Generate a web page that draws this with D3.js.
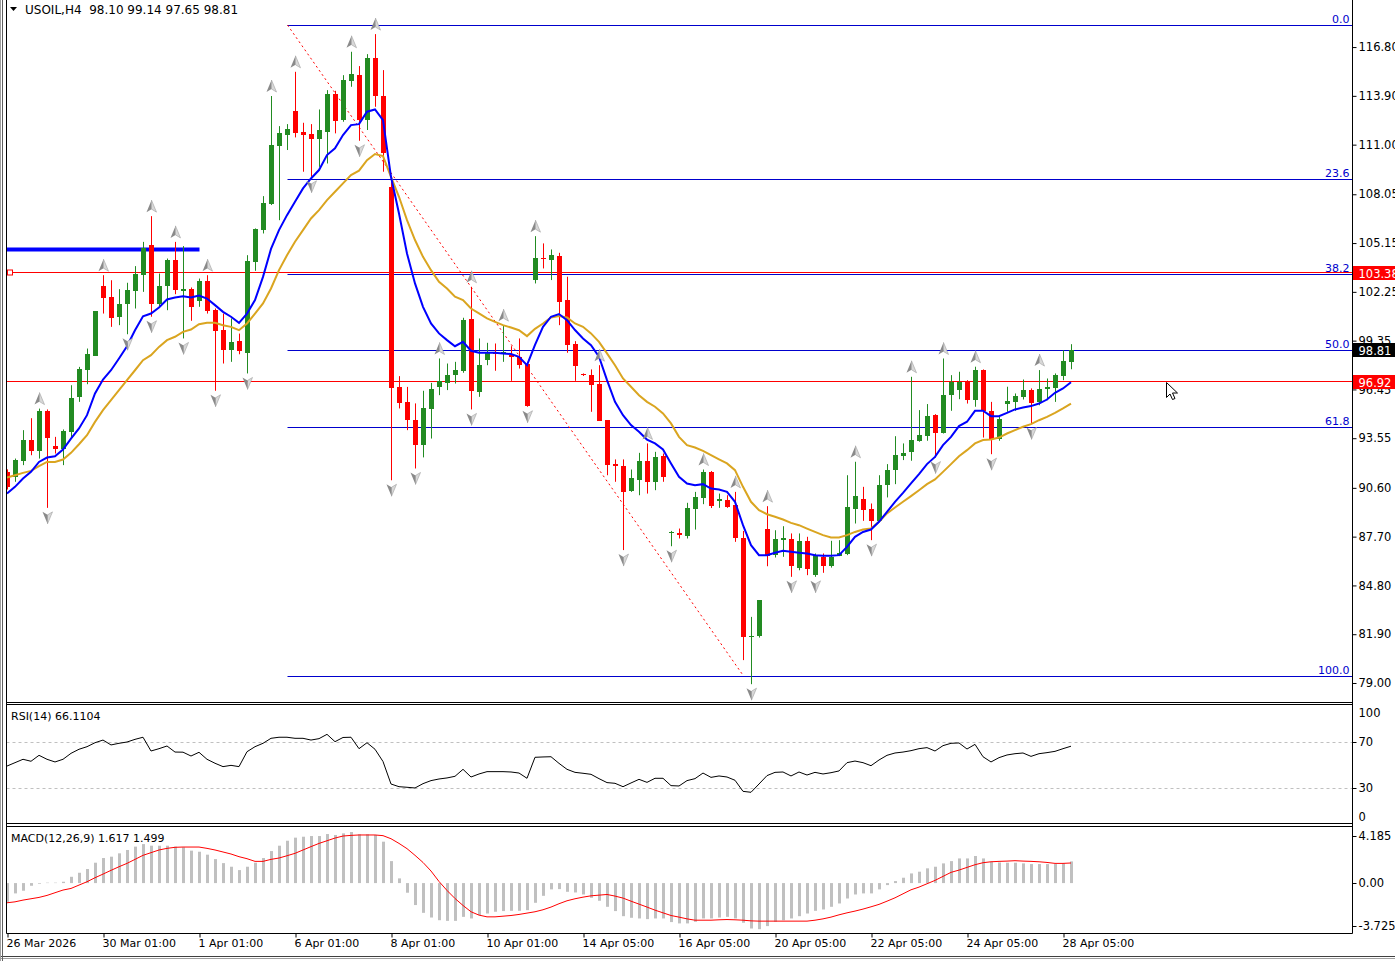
<!DOCTYPE html>
<html>
<head>
<meta charset="utf-8">
<script src="https://cdn.jsdelivr.net/npm/d3@7/dist/d3.min.js"></script>
<style>
  body { margin: 0; background: #fff; }
  svg { display: block; font-family: Tahoma, "DejaVu Sans", sans-serif; font-size: 11px; }
</style>
</head>
<body>
<svg id="chart" width="1395" height="961"></svg>
<script>
/*global d3
 */
// USOIL H4 candles (one entry per bar)
const opens = [
  91.55, 91.25, 92.20, 93.43, 92.80, 95.16, 93.08, 92.88, 93.93, 95.99,
  97.59, 98.45, 102.59, 101.95, 100.73, 101.50, 102.31, 103.24, 105.03, 101.52,
  102.59, 104.13, 102.31, 102.41, 101.72, 102.89, 101.16, 99.97, 98.78, 99.30,
  98.62, 104.03, 105.92, 107.47, 110.91, 111.57, 113.01, 111.75, 111.63, 111.31,
  111.77, 114.00, 112.46, 114.80, 115.13, 112.42, 116.13, 113.89, 108.50, 96.60,
  95.71, 94.62, 93.14, 95.28, 96.61, 96.80, 97.30, 97.54, 100.61, 96.31,
  98.15, 98.59, 98.59, 98.49, 98.39, 97.99, 102.95, 104.24, 104.14, 104.37,
  101.76, 99.14, 97.34, 97.30, 96.76, 94.62, 92.01, 91.89, 90.40, 91.06,
  92.21, 90.96, 92.48, 87.90, 87.92, 87.73, 89.37, 90.03, 91.55, 89.77,
  89.87, 89.57, 87.59, 81.70, 81.78, 88.18, 86.60, 87.49, 87.53, 85.86,
  87.45, 85.41, 86.50, 85.94, 86.58, 86.70, 89.33, 89.93, 89.33, 88.62,
  90.76, 91.65, 92.50, 92.74, 93.40, 93.69, 94.92, 93.87, 96.11, 96.41,
  96.94, 95.81, 97.60, 95.18, 93.53, 95.61, 95.67, 95.97, 96.41, 95.67,
  96.51, 96.55, 97.26, 98.10
];
const highs = [
  91.70, 92.34, 94.03, 94.74, 95.31, 95.26, 93.63, 94.07, 96.70, 97.79,
  98.88, 101.10, 103.24, 102.94, 102.41, 102.79, 103.78, 105.22, 106.75, 103.34,
  104.23, 105.22, 104.97, 102.51, 103.04, 103.24, 101.26, 100.96, 100.67, 99.77,
  104.43, 106.02, 107.94, 113.89, 112.10, 112.22, 115.33, 112.30, 112.22, 113.09,
  114.24, 114.20, 115.13, 116.52, 115.67, 116.38, 117.57, 115.43, 108.99, 97.24,
  96.60, 95.62, 96.37, 96.84, 98.29, 97.99, 98.09, 100.71, 102.55, 99.48,
  99.22, 99.18, 100.27, 99.02, 99.48, 98.09, 105.56, 105.13, 104.77, 104.57,
  103.15, 99.32, 97.40, 97.64, 97.89, 94.62, 92.29, 92.29, 91.69, 92.68,
  93.24, 92.74, 92.64, 88.04, 88.18, 89.71, 90.36, 91.69, 91.60, 90.26,
  90.16, 90.36, 88.04, 82.93, 83.92, 89.51, 88.08, 88.32, 87.89, 87.89,
  87.69, 86.70, 86.70, 87.45, 87.49, 91.35, 92.15, 90.66, 89.67, 91.35,
  92.01, 93.67, 93.24, 97.20, 95.22, 95.58, 94.98, 98.29, 97.30, 97.50,
  97.00, 97.80, 97.64, 95.71, 94.82, 96.61, 96.21, 97.04, 96.51, 97.60,
  97.10, 97.40, 98.78, 99.14
];
const lows = [
  90.50, 90.96, 91.95, 92.54, 92.34, 89.41, 92.64, 91.95, 93.53, 95.71,
  96.76, 98.45, 100.96, 100.17, 100.27, 99.73, 101.26, 102.25, 100.77, 101.32,
  101.16, 102.11, 99.48, 100.53, 101.36, 100.96, 96.37, 97.99, 98.09, 98.54,
  97.40, 103.50, 105.72, 107.41, 106.51, 110.68, 111.43, 109.39, 109.09, 109.68,
  109.88, 111.67, 112.36, 114.44, 111.23, 111.87, 113.25, 109.39, 91.05, 95.32,
  94.03, 91.75, 92.41, 93.53, 96.11, 96.41, 96.80, 97.44, 95.26, 96.01,
  97.89, 97.56, 98.09, 96.96, 97.69, 95.42, 102.75, 103.64, 102.95, 100.27,
  98.63, 96.96, 97.25, 95.12, 94.58, 91.35, 90.96, 86.90, 90.36, 90.16,
  90.26, 90.46, 90.96, 87.13, 87.59, 87.59, 88.12, 89.63, 89.40, 89.41,
  89.41, 87.39, 80.36, 78.93, 81.70, 85.94, 86.46, 86.50, 85.31, 85.70,
  85.41, 85.31, 85.55, 85.86, 86.54, 86.60, 88.48, 88.64, 87.49, 88.58,
  90.03, 90.82, 92.25, 92.21, 93.34, 93.40, 92.40, 93.83, 95.18, 95.87,
  95.61, 95.42, 93.59, 92.60, 93.40, 95.12, 95.18, 95.85, 94.43, 95.51,
  95.81, 95.71, 97.00, 97.65
];
const closes = [
  90.66, 92.24, 93.43, 92.80, 95.16, 93.57, 92.92, 93.97, 95.97, 97.65,
  98.55, 101.10, 101.89, 100.73, 101.52, 102.35, 103.30, 104.83, 101.52, 102.59,
  104.13, 102.35, 102.41, 101.36, 102.89, 101.12, 99.93, 98.78, 99.24, 98.68,
  104.07, 105.98, 107.54, 110.97, 111.71, 111.94, 111.71, 111.59, 111.35, 111.87,
  114.00, 112.42, 114.84, 115.19, 112.46, 116.13, 113.85, 110.48, 96.55, 95.65,
  94.62, 93.14, 95.32, 96.45, 96.94, 97.30, 97.60, 100.57, 96.31, 97.89,
  98.59, 98.52, 98.65, 98.35, 97.93, 95.51, 104.24, 104.18, 104.43, 101.66,
  99.08, 97.85, 97.28, 96.70, 94.58, 91.95, 91.91, 90.36, 91.20, 92.21,
  90.96, 92.44, 91.26, 87.98, 87.79, 89.41, 90.07, 91.55, 89.51, 89.91,
  89.47, 87.59, 81.70, 81.78, 83.92, 86.60, 87.53, 87.59, 85.90, 87.45,
  85.80, 86.60, 85.94, 86.50, 86.74, 89.47, 90.13, 89.27, 88.64, 90.76,
  91.65, 92.54, 92.70, 93.44, 93.73, 94.86, 93.87, 96.11, 96.90, 96.90,
  95.81, 97.60, 95.18, 93.49, 94.72, 95.77, 96.05, 96.41, 95.61, 96.47,
  96.61, 97.30, 98.13, 98.81
];

// moving averages as drawn on the chart (blue fast, gold slow)
const maFast = [
  90.26, 90.66, 91.15, 91.55, 92.14, 92.40, 92.48, 92.88, 93.53, 94.13,
  94.92, 96.21, 97.04, 97.59, 98.29, 99.02, 99.97, 100.80, 100.96, 101.32,
  101.80, 101.91, 101.99, 101.91, 102.03, 101.85, 101.46, 101.06, 100.77, 100.41,
  100.96, 101.76, 103.14, 104.80, 105.92, 106.81, 107.60, 108.40, 108.99, 109.49,
  110.38, 110.78, 111.57, 112.16, 112.22, 112.96, 113.09, 112.46, 109.09, 106.91,
  104.53, 102.75, 101.36, 100.37, 99.78, 99.38, 99.02, 99.28, 98.75, 98.63,
  98.63, 98.63, 98.59, 98.55, 98.39, 97.89, 99.10, 100.17, 100.77, 100.93,
  100.57, 99.98, 99.48, 99.08, 98.39, 97.00, 95.71, 94.92, 94.33, 93.93,
  93.47, 93.24, 92.88, 92.05, 91.26, 90.86, 90.76, 90.82, 90.56, 90.50,
  90.36, 89.77, 88.38, 87.19, 86.60, 86.60, 86.74, 86.86, 86.80, 86.74,
  86.70, 86.60, 86.56, 86.56, 86.60, 87.09, 87.69, 87.98, 88.12, 88.58,
  89.17, 89.77, 90.30, 90.86, 91.41, 92.01, 92.44, 93.14, 93.63, 94.27,
  94.53, 95.18, 95.18, 94.86, 94.86, 95.06, 95.26, 95.38, 95.46, 95.61,
  95.85, 96.25, 96.51, 96.88
];
const maSlow = [
  91.21, 91.35, 91.49, 91.61, 91.89, 92.14, 92.14, 92.28, 92.68, 93.19,
  93.73, 94.52, 95.22, 95.81, 96.41, 97.00, 97.59, 98.19, 98.49, 98.98,
  99.38, 99.58, 99.87, 100.01, 100.33, 100.41, 100.41, 100.27, 100.17, 99.97,
  100.37, 100.96, 101.56, 102.45, 103.54, 104.43, 105.23, 105.92, 106.61, 107.11,
  107.70, 108.20, 108.70, 109.19, 109.45, 110.08, 110.44, 110.32, 109.09, 107.90,
  106.51, 105.33, 104.33, 103.54, 102.85, 102.45, 101.96, 101.76, 101.26, 100.97,
  100.67, 100.47, 100.27, 100.13, 99.97, 99.62, 100.05, 100.37, 100.73, 100.81,
  100.73, 100.37, 100.17, 99.78, 99.28, 98.59, 97.89, 97.10, 96.61, 96.11,
  95.71, 95.42, 95.02, 94.43, 93.63, 93.14, 93.00, 92.80, 92.54, 92.29,
  92.05, 91.65, 90.66, 89.77, 89.27, 89.03, 88.88, 88.72, 88.52, 88.38,
  88.18, 87.98, 87.79, 87.65, 87.65, 87.79, 87.98, 88.12, 88.18, 88.58,
  89.08, 89.43, 89.77, 90.11, 90.46, 90.82, 91.10, 91.55, 92.01, 92.48,
  92.84, 93.24, 93.44, 93.47, 93.59, 93.83, 94.03, 94.23, 94.39, 94.62,
  94.82, 95.06, 95.32, 95.61
];

const rsiValues = [
  49.1, 52.0, 54.9, 53.2, 58.3, 54.9, 52.6, 54.9, 60.0, 63.5,
  65.7, 69.1, 71.4, 67.2, 68.6, 69.7, 72.0, 73.8, 62.0, 64.0,
  66.3, 61.1, 61.0, 57.7, 60.9, 54.9, 51.5, 48.6, 49.7, 48.6,
  61.4, 65.7, 68.6, 72.9, 73.8, 73.8, 72.9, 72.9, 71.4, 72.6,
  76.3, 70.0, 73.6, 73.8, 64.0, 69.1, 63.5, 53.0, 33.7, 31.4,
  30.9, 30.3, 34.0, 36.6, 38.0, 38.9, 40.3, 46.3, 39.7, 42.3,
  44.3, 44.3, 44.3, 44.0, 43.1, 38.6, 56.6, 56.9, 57.1, 51.4,
  46.3, 43.7, 42.9, 42.0, 38.3, 34.9, 34.3, 31.4, 34.6, 37.7,
  35.1, 38.6, 38.6, 32.3, 32.0, 36.6, 38.3, 43.1, 39.4, 40.6,
  39.7, 36.9, 27.4, 26.6, 33.7, 40.9, 43.7, 44.0, 40.6, 44.0,
  41.4, 43.7, 42.3, 43.4, 44.9, 52.0, 53.4, 52.0, 49.4, 54.3,
  58.3, 60.3, 61.1, 62.3, 64.0, 64.9, 62.0, 66.6, 68.6, 68.9,
  63.7, 67.7, 57.1, 52.6, 56.3, 58.6, 59.7, 60.3, 57.4, 59.7,
  60.6, 61.7, 64.0, 66.11
];

const macdMain = [
  -1.40, -0.77, -0.57, -0.20, -0.05, 0.03, 0.03, 0.10, 0.47, 0.77,
  1.05, 1.52, 1.87, 1.97, 2.22, 2.47, 2.72, 2.91, 2.79, 2.79,
  2.79, 2.72, 2.67, 2.42, 2.34, 2.12, 1.79, 1.49, 1.22, 0.97,
  1.22, 1.52, 1.87, 2.39, 2.79, 3.16, 3.39, 3.46, 3.51, 3.51,
  3.66, 3.59, 3.71, 3.81, 3.64, 3.64, 3.59, 3.09, 1.64, 0.35,
  -0.72, -1.64, -2.22, -2.57, -2.77, -2.82, -2.82, -2.52, -2.64, -2.39,
  -2.27, -2.14, -2.09, -2.07, -2.07, -2.02, -1.47, -0.95, -0.47, -0.45,
  -0.65, -0.70, -0.85, -1.10, -1.32, -1.77, -2.09, -2.47, -2.59, -2.64,
  -2.69, -2.64, -2.64, -2.91, -3.01, -3.01, -2.89, -2.64, -2.64, -2.57,
  -2.52, -2.64, -2.96, -3.39, -3.44, -3.21, -2.89, -2.77, -2.64, -2.47,
  -2.27, -2.07, -1.97, -1.77, -1.52, -1.15, -0.85, -0.77, -0.77, -0.47,
  -0.15, 0.15, 0.40, 0.72, 0.85, 1.10, 1.22, 1.47, 1.64, 1.84,
  1.84, 2.02, 1.84, 1.59, 1.54, 1.52, 1.52, 1.47, 1.42, 1.42,
  1.42, 1.42, 1.47, 1.617
];
const macdSignal = [
  -1.47, -1.40, -1.27, -1.17, -1.07, -0.92, -0.72, -0.52, -0.40, -0.15,
  0.10, 0.40, 0.67, 0.95, 1.22, 1.47, 1.77, 2.07, 2.27, 2.47,
  2.59, 2.67, 2.69, 2.69, 2.69, 2.59, 2.47, 2.32, 2.17, 1.97,
  1.82, 1.62, 1.62, 1.77, 1.87, 2.04, 2.22, 2.47, 2.72, 2.96,
  3.16, 3.36, 3.51, 3.56, 3.59, 3.59, 3.59, 3.54, 3.31, 2.96,
  2.57, 2.07, 1.54, 0.90, 0.12, -0.55, -1.15, -1.67, -2.14, -2.39,
  -2.52, -2.52, -2.47, -2.42, -2.34, -2.24, -2.14, -1.99, -1.79, -1.54,
  -1.32, -1.17, -1.05, -0.95, -0.90, -0.85, -0.97, -1.12, -1.35, -1.57,
  -1.79, -2.02, -2.22, -2.42, -2.54, -2.67, -2.77, -2.77, -2.77, -2.74,
  -2.72, -2.74, -2.77, -2.82, -2.84, -2.84, -2.84, -2.84, -2.84, -2.84,
  -2.84, -2.77, -2.67, -2.54, -2.37, -2.22, -2.09, -1.94, -1.77, -1.59,
  -1.35, -1.10, -0.80, -0.50, -0.30, -0.05, 0.20, 0.50, 0.80, 0.97,
  1.17, 1.37, 1.52, 1.59, 1.62, 1.64, 1.67, 1.64, 1.62, 1.59,
  1.54, 1.47, 1.47, 1.499
];

// fractal bars (index into the arrays above)
const fractalUp = [4, 12, 18, 21, 25, 33, 36, 43, 46, 54, 58, 62, 66, 74, 80, 87, 91, 95, 106, 113, 117, 121, 129];
const fractalDown = [5, 15, 18, 22, 26, 30, 38, 44, 48, 51, 58, 65, 77, 83, 93, 98, 101, 108, 116, 123, 128];

const dateLabels = ["26 Mar 2026", "30 Mar 01:00", "1 Apr 01:00", "6 Apr 01:00", "8 Apr 01:00", "10 Apr 01:00",
  "14 Apr 05:00", "16 Apr 05:00", "20 Apr 05:00", "22 Apr 05:00", "24 Apr 05:00", "28 Apr 05:00"];
const priceTicks = [116.80, 113.90, 111.00, 108.05, 105.15, 102.25, 99.35, 96.45, 93.55, 90.60, 87.70, 84.80, 81.90, 79.00];

// drawing objects
const fibHigh = 118.11, fibLow = 79.42, fibFrom = 35, fibTo = 92;
const fibLevels = [0, 23.6, 38.2, 50, 61.8, 100];
const redLevels = [103.38, 96.92];
const blueZone = {price: 104.76, from: 0, to: 24};
const lastPrice = 98.81;

const W = 1395, H = 961;
const left = 6.5, axisX = 1352.5;
const mainBottom = 702.5;
const rsiTop = 704.5, rsiBottom = 823.5;
const macdTop = 826.5, macdBottom = 933.5;
const n = closes.length;
const FONT = "Tahoma, 'DejaVu Sans', sans-serif";

const svg = d3.select("#chart");

const x = d3.scaleLinear().domain([0, n - 1]).range([7, 7 + 8 * (n - 1)]);
const y = d3.scaleLinear().domain([77.93, 119.36]).range([701, 4]);
const yRsi = d3.scaleLinear().domain([0, 100]).range([823.3, 706.7]);
const yMacd = d3.scaleLinear().domain([-3.725, 4.185]).range([933, 827]);
const px = i => Math.round(x(i)) + 0.5;

let defs = svg.append("defs");
defs.append("clipPath").attr("id", "clipMain")
  .append("rect").attr("x", left).attr("y", 1).attr("width", axisX - left).attr("height", mainBottom - 1);
defs.append("clipPath").attr("id", "clipRsi")
  .append("rect").attr("x", left).attr("y", rsiTop).attr("width", axisX - left).attr("height", rsiBottom - rsiTop);
defs.append("clipPath").attr("id", "clipMacd")
  .append("rect").attr("x", left).attr("y", macdTop).attr("width", axisX - left).attr("height", macdBottom - macdTop);

// ---------- main panel ----------
let main = svg.append("g").attr("clip-path", "url(#clipMain)");

// fibonacci retracement
let fib = main.append("g");
fibLevels.forEach(function (lv) {
  let p = fibHigh - lv / 100 * (fibHigh - fibLow);
  let yy = Math.round(y(p)) + 0.5;
  fib.append("line")
    .attr("x1", px(fibFrom)).attr("x2", axisX).attr("y1", yy).attr("y2", yy)
    .attr("stroke", "#0000cd").attr("stroke-width", 1);
  fib.append("text")
    .attr("x", axisX - 3).attr("y", yy - 3)
    .attr("text-anchor", "end")
    .attr("fill", "#0000cd")
    .text(lv.toFixed(1));
});

// thick blue resistance segment
main.append("line")
  .attr("x1", left).attr("x2", px(blueZone.to))
  .attr("y1", y(blueZone.price)).attr("y2", y(blueZone.price))
  .attr("stroke", "#0000ff").attr("stroke-width", 4);

// red horizontal levels
redLevels.forEach(function (lv) {
  let yy = Math.round(y(lv)) - 0.5;
  main.append("line")
    .attr("x1", left).attr("x2", axisX).attr("y1", yy).attr("y2", yy)
    .attr("stroke", "#ff0000").attr("stroke-width", 1);
});
main.append("rect")
  .attr("x", 7.5).attr("y", Math.round(y(redLevels[0])) - 3)
  .attr("width", 5).attr("height", 5)
  .attr("fill", "#fff").attr("stroke", "#ff0000");

// dotted trend line
main.append("line")
  .attr("x1", px(fibFrom)).attr("y1", y(fibHigh))
  .attr("x2", px(fibTo)).attr("y2", y(fibLow))
  .attr("stroke", "#ff0000").attr("stroke-width", 1)
  .attr("stroke-dasharray", "2,3");

// candles
let candles = main.append("g").selectAll("g")
  .data(d3.range(n))
  .join("g")
  .attr("fill", i => closes[i] >= opens[i] ? "#228b22" : "#ff0000")
  .attr("stroke", i => closes[i] >= opens[i] ? "#228b22" : "#ff0000");

candles.append("line")
  .attr("x1", px).attr("x2", px)
  .attr("y1", i => y(highs[i])).attr("y2", i => y(lows[i]))
  .attr("stroke-width", 1);

candles.append("rect")
  .attr("x", i => Math.round(x(i)) - 2)
  .attr("width", 5)
  .attr("y", i => Math.round(y(Math.max(opens[i], closes[i]))))
  .attr("height", i => Math.max(1, Math.round(Math.abs(y(opens[i]) - y(closes[i])))))
  .attr("stroke", "none");

// moving averages
let maLine = d3.line().x((d, i) => x(i)).y(d => y(d));
main.append("path").datum(maSlow)
  .attr("d", maLine).attr("fill", "none")
  .attr("stroke", "#daa520").attr("stroke-width", 2);
main.append("path").datum(maFast)
  .attr("d", maLine).attr("fill", "none")
  .attr("stroke", "#0000ff").attr("stroke-width", 2);

// fractal arrows (two tone, like the terminal's wingdings arrow)
let arrowL = "M0,-6L-5,6L0,3Z", arrowR = "M0,-6L5,6L0,3Z";
let fracs = main.append("g");
fractalUp.forEach(function (i) {
  let g = fracs.append("g").attr("transform", "translate(" + px(i) + "," + (y(highs[i]) - 10) + ")");
  g.append("path").attr("d", arrowL).attr("fill", "#8a8a8a");
  g.append("path").attr("d", arrowR).attr("fill", "#d8d8d8").attr("stroke", "#a0a0a0").attr("stroke-width", 0.6);
});
fractalDown.forEach(function (i) {
  let g = fracs.append("g").attr("transform", "translate(" + px(i) + "," + (y(lows[i]) + 10) + ")rotate(180)");
  g.append("path").attr("d", arrowL).attr("fill", "#d8d8d8").attr("stroke", "#a0a0a0").attr("stroke-width", 0.6);
  g.append("path").attr("d", arrowR).attr("fill", "#8a8a8a");
});

// mouse pointer left on the chart
svg.append("path")
  .attr("d", "M0,0L0,15L3.5,11.5L6,17L8.5,16L6,10.5L11,10.5Z")
  .attr("transform", "translate(1166.5,382.5)")
  .attr("fill", "#fff").attr("stroke", "#000").attr("stroke-width", 1);

// header
svg.append("path").attr("d", "M10,7L17,7L13.5,11Z").attr("fill", "#000");
svg.append("text").attr("x", 25).attr("y", 14)
  .attr("xml:space", "preserve")
  .attr("font-size", 12)
  .text("USOIL,H4  98.10 99.14 97.65 98.81");

// ---------- RSI panel ----------
let rsiG = svg.append("g").attr("clip-path", "url(#clipRsi)");
[70, 30].forEach(function (lv) {
  rsiG.append("line")
    .attr("x1", left).attr("x2", axisX)
    .attr("y1", Math.round(yRsi(lv)) + 0.5).attr("y2", Math.round(yRsi(lv)) + 0.5)
    .attr("stroke", "#c0c0c0").attr("stroke-dasharray", "3,3");
});
rsiG.append("path").datum(rsiValues)
  .attr("d", d3.line().x((d, i) => x(i)).y(d => yRsi(d)))
  .attr("fill", "none").attr("stroke", "#000").attr("stroke-width", 1);
svg.append("text").attr("x", 11).attr("y", 720).text("RSI(14) 66.1104");

// ---------- MACD panel ----------
let macdG = svg.append("g").attr("clip-path", "url(#clipMacd)");
macdG.selectAll("rect")
  .data(macdMain)
  .join("rect")
  .attr("x", (d, i) => Math.round(x(i)) - 1)
  .attr("width", 3)
  .attr("y", d => Math.min(yMacd(d), yMacd(0)))
  .attr("height", d => Math.abs(yMacd(d) - yMacd(0)))
  .attr("fill", "#c0c0c0");
macdG.append("path").datum(macdSignal)
  .attr("d", d3.line().x((d, i) => x(i)).y(d => yMacd(d)))
  .attr("fill", "none").attr("stroke", "#ff0000").attr("stroke-width", 1);
svg.append("text").attr("x", 11).attr("y", 842).text("MACD(12,26,9) 1.617 1.499");

// ---------- frames ----------
let frame = svg.append("g").attr("fill", "none").attr("stroke", "#000");
frame.append("line").attr("x1", left).attr("x2", left).attr("y1", 0).attr("y2", macdBottom);
frame.append("line").attr("x1", axisX).attr("x2", axisX).attr("y1", 0).attr("y2", macdBottom);
[mainBottom, rsiTop, rsiBottom, macdTop, macdBottom].forEach(function (yy) {
  frame.append("line").attr("x1", left).attr("x2", axisX).attr("y1", yy).attr("y2", yy);
});
frame.append("line").attr("x1", 0).attr("x2", W).attr("y1", 956.5).attr("y2", 956.5).attr("stroke", "#404040");
frame.append("line").attr("x1", 0).attr("x2", W).attr("y1", 958.5).attr("y2", 958.5).attr("stroke", "#a0a0a0");
frame.append("line").attr("x1", 0.5).attr("x2", 0.5).attr("y1", 0).attr("y2", H).attr("stroke", "#a0a0a0");
frame.append("line").attr("x1", 2.5).attr("x2", 2.5).attr("y1", 0).attr("y2", H).attr("stroke", "#606060");

// ---------- axes ----------
let priceAxis = d3.axisRight(y).tickValues(priceTicks).tickFormat(d3.format(".2f")).tickSize(4).tickPadding(2);
svg.append("g").attr("transform", "translate(" + axisX + ",0)")
  .call(priceAxis)
  .attr("font-size", 11.5).attr("font-family", FONT)
  .call(g => g.select(".domain").remove())
  .call(g => g.selectAll("text").attr("fill", "#000"));

// price tags on the axis
function priceTag(p, bg) {
  let yy = Math.round(y(p));
  svg.append("rect").attr("x", axisX + 0.5).attr("y", yy - 7).attr("width", W - axisX).attr("height", 14).attr("fill", bg);
  svg.append("text").attr("x", axisX + 6).attr("y", yy + 5).attr("font-size", 11.5).attr("fill", "#fff").text(p.toFixed(2));
}
redLevels.forEach(p => priceTag(p, "#ff0000"));
priceTag(lastPrice, "#000");

// indicator scales, labels sit inside the panel edges like the terminal does
function sideLabel(txt, yy, tickY) {
  if (tickY !== null) {
    svg.append("line").attr("x1", axisX).attr("x2", axisX + 4)
      .attr("y1", Math.round(tickY) + 0.5).attr("y2", Math.round(tickY) + 0.5).attr("stroke", "#000");
  }
  svg.append("text").attr("x", axisX + 6).attr("y", yy + 4).attr("font-size", 11.5).text(txt);
}
sideLabel("100", 713, null);
sideLabel("70", yRsi(70), yRsi(70));
sideLabel("30", yRsi(30), yRsi(30));
sideLabel("0", 817, null);
sideLabel("4.185", 836, 836);
sideLabel("0.00", yMacd(0), yMacd(0));
sideLabel("-3.725", 926, 926);

let timeAxis = d3.axisBottom(x)
  .tickValues(d3.range(0, n, 12))
  .tickFormat((d, k) => dateLabels[k])
  .tickSize(4).tickPadding(2);
svg.append("g").attr("transform", "translate(0," + macdBottom + ")")
  .call(timeAxis)
  .attr("font-size", 11).attr("font-family", FONT)
  .call(g => g.select(".domain").remove())
  .call(g => g.selectAll("line").attr("transform", "translate(0.5,0)"))
  .call(g => g.selectAll("text").attr("text-anchor", "start").attr("dx", -1).attr("fill", "#000"));
</script>
</body>
</html>
